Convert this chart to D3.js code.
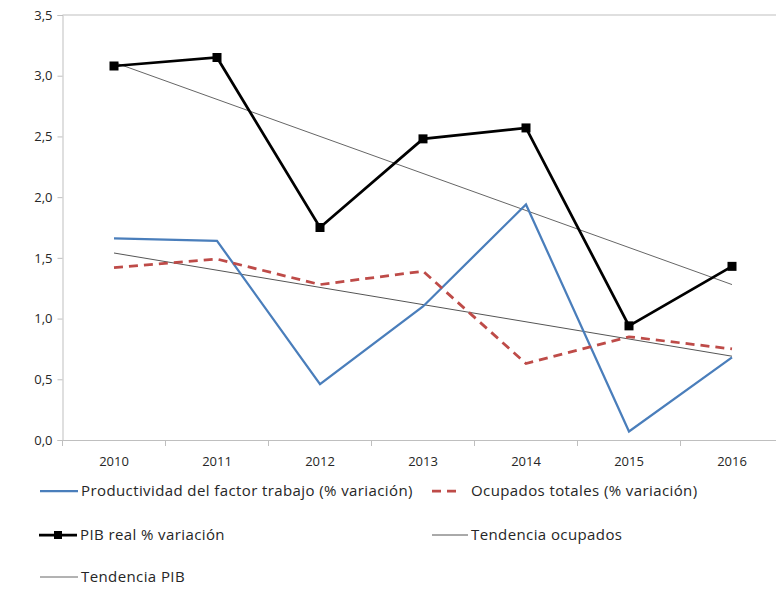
<!DOCTYPE html>
<html><head><meta charset="utf-8">
<script src="https://cdn.jsdelivr.net/npm/d3@7"></script>
<style>body{margin:0;background:#fff}svg{display:block}text{font-family:"Open Sans",sans-serif;fill:#262626}</style>
</head><body><svg id="c" width="776" height="595"></svg>
<script>
const years = ["2010","2011","2012","2013","2014","2015","2016"];
const productividad = [1.66, 1.64, 0.46, 1.10, 1.94, 0.07, 0.68];
const ocupados = [1.42, 1.49, 1.28, 1.39, 0.63, 0.85, 0.75];
const pib = [3.08, 3.15, 1.75, 2.48, 2.57, 0.94, 1.43];
const trendYears = ["2010","2016"];
const tendenciaOcupados = [1.54, 0.69];
const tendenciaPIB = [3.11, 1.28];
const yTicks = [0,0.5,1,1.5,2,2.5,3,3.5];

const svg = d3.select("#c");
const L = 62.5, R = 783.5, T = 15, B = 440;
const x = d3.scaleBand().domain(years).range([L, R]);
const y = d3.scaleLinear().domain([0, 3.5]).range([B, T]);
const cx = d => x(d) + x.bandwidth()/2;
const fmt = v => d3.format(".1f")(v).replace(".", ",");

// top border
svg.append("line").attr("x1", L).attr("x2", 776).attr("y1", T).attr("y2", T).attr("stroke", "#bfbfbf");

const ya = svg.append("g").attr("transform", `translate(${L},0)`)
  .call(d3.axisLeft(y).tickValues(yTicks).tickFormat(fmt).tickSizeOuter(0).tickSize(5).tickPadding(5));
const xa = svg.append("g").attr("transform", `translate(0,${B})`)
  .call(d3.axisBottom(x).tickSize(0).tickPadding(17));
[ya, xa].forEach(g => { g.selectAll("path,line").attr("stroke", "#bfbfbf"); g.selectAll("text").style("font-size","13px").attr("fill","#262626"); });
xa.select(".domain").attr("d", `M${L},0.5H776`);
xa.selectAll(".bt").data(d3.range(years.length + 1)).enter().append("line")
  .attr("x1", i => L + i * x.step()).attr("x2", i => L + i * x.step())
  .attr("y1", 0).attr("y2", 6).attr("stroke", "#bfbfbf");

const line = d3.line().x((d, i) => cx(years[i])).y(d => y(d));
const tline = d3.line().x((d, i) => cx(trendYears[i])).y(d => y(d));

svg.append("path").datum(tendenciaOcupados).attr("d", tline).attr("fill","none").attr("stroke","#555").attr("stroke-width",1);
svg.append("path").datum(tendenciaPIB).attr("d", tline).attr("fill","none").attr("stroke","#666").attr("stroke-width",1);
svg.append("path").datum(productividad).attr("d", line).attr("fill","none").attr("stroke","#4a7ebb").attr("stroke-width",2.25);
svg.append("path").datum(ocupados).attr("d", line).attr("fill","none").attr("stroke","#be4b48").attr("stroke-width",2.75).attr("stroke-dasharray","9,6");
svg.append("path").datum(pib).attr("d", line).attr("fill","none").attr("stroke","#000").attr("stroke-width",2.75);
svg.selectAll(".m").data(pib).enter().append("rect")
  .attr("x", (d,i) => cx(years[i]) - 4.5).attr("y", d => y(d) - 4.5).attr("width", 9).attr("height", 9).attr("fill","#000");

// legend
const lg = svg.append("g");
const items = [
  {t:"Productividad del factor trabajo (% variación)", x:40, y:491, w:38, c:"#4a7ebb", sw:2.25},
  {t:"Ocupados totales (% variación)", x:432, y:491, w:30, c:"#be4b48", sw:2.75, dash:"9,6", tx:471},
  {t:"PIB real % variación", x:39, y:535, w:38, c:"#000", sw:2.75, marker:true},
  {t:"Tendencia ocupados", x:432, y:535, w:36, c:"#555", sw:1},
  {t:"Tendencia PIB", x:40, y:577, w:38, c:"#666", sw:1}
];
items.forEach(it => {
  lg.append("line").attr("x1", it.x).attr("x2", it.x + it.w).attr("y1", it.y).attr("y2", it.y)
    .attr("stroke", it.c).attr("stroke-width", it.sw).attr("stroke-dasharray", it.dash || null);
  if (it.marker) lg.append("rect").attr("x", it.x + it.w/2 - 4).attr("y", it.y - 4).attr("width", 8).attr("height", 8).attr("fill", "#000");
  lg.append("text").attr("x", it.tx || it.x + it.w + 3).attr("y", it.y).attr("dy", "0.35em")
    .style("font-size", "15px").style("letter-spacing", "0.4px").text(it.t);
});
</script></body></html>
